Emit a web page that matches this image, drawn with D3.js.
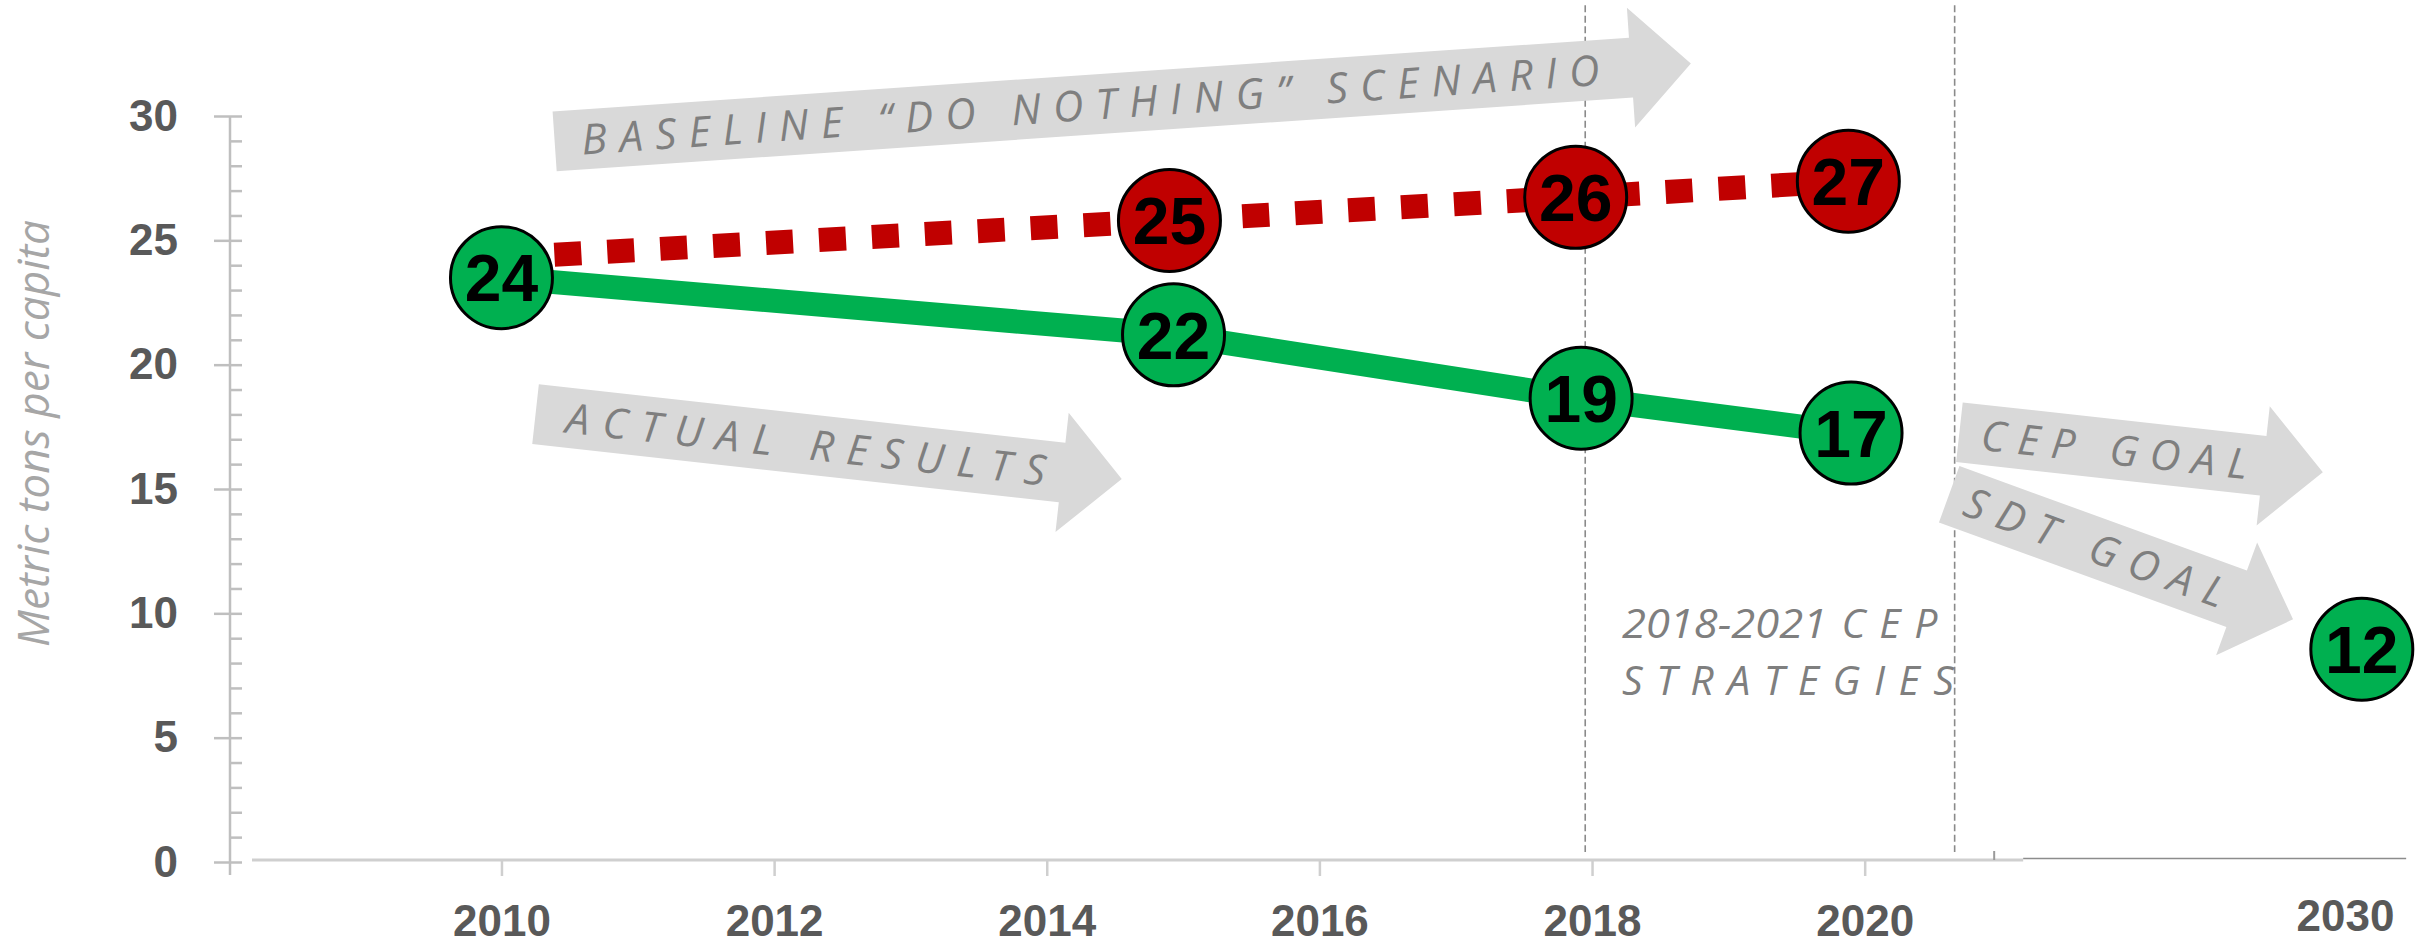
<!DOCTYPE html>
<html>
<head>
<meta charset="utf-8">
<script src="https://cdn.jsdelivr.net/npm/d3@7"></script>
<style>
  body { margin: 0; background: #fff; }
  svg { display: block; }
</style>
</head>
<body>
<div id="chart"></div>
<script>
// actual results (green solid line)
const actualYears = [2010, 2014.93, 2017.92, 2019.9];
const actualValues = [23.5, 21.2, 18.65, 17.25];
const actualLabels = ["24", "22", "19", "17"];

// baseline "do nothing" scenario (red dotted line)
const baselineYears = [2010, 2014.9, 2017.88, 2019.88];
const baselineValues = [24.3, 25.8, 26.73, 27.38];
const baselineLabels = ["", "25", "26", "27"];

// SDT goal
const goalYears = [2030.44];
const goalValues = [8.56];
const goalLabels = ["12"];

const xTicks = [2010, 2012, 2014, 2016, 2018, 2020, 2030];
const yTicks = [0, 5, 10, 15, 20, 25, 30];
const yMinorTicks = [0,1,2,3,4,5,6,7,8,9,10,11,12,13,14,15,16,17,18,19,20,21,22,23,24,25,26,27,28,29,30];

// annotation arrows, [year, value] of tail centre and tip
const arrowTexts = ["BASELINE \u201CDO NOTHING\u201D SCENARIO", "ACTUAL RESULTS", "CEP GOAL", "SDT GOAL"];
const arrowFrom = [[2010.39, 28.98], [2010.25, 18.01], [2020.695, 17.28], [2020.62, 14.79]];
const arrowTo = [[2018.725, 32.11], [2014.55, 15.40], [2029.42, 15.67], [2028.64, 9.76]];
const arrowTextStart = [27, 31, 22, 18];
const arrowTextLen = [1020, 482, 268, 274];

const periodYears = [2017.95, 2020.66];

const width = 2433, height = 945;

const svg = d3.select("#chart")
  .append("svg")
  .attr("width", width)
  .attr("height", height)
  .style("background", "#fff");

// broken time axis: linear up to 2021, then squeezed to 2030
const x = d3.scaleLinear().domain([2008.17, 2021, 2030]).range([252, 2001, 2345]);
const y = d3.scaleLinear().domain([0, 30]).range([862, 116]);

const tickFont = "'Liberation Sans', Arial, sans-serif";
const italicFont = "'Open Sans', 'Noto Sans', sans-serif";

// dashed period lines
svg.selectAll(".period")
  .data(periodYears)
  .enter()
  .append("line")
  .attr("class", "period")
  .attr("x1", d => x(d)).attr("x2", d => x(d))
  .attr("y1", y(34.45)).attr("y2", y(0.4))
  .attr("stroke", "#8a8a8a")
  .attr("stroke-width", 1.6)
  .attr("stroke-dasharray", "7 3.5");

// y axis
const yAxisG = svg.append("g").attr("transform", "translate(230,0)");
yAxisG.append("line")
  .attr("x1", 0).attr("x2", 0)
  .attr("y1", y(30)).attr("y2", y(0) + 13)
  .attr("stroke", "#bfbfbf").attr("stroke-width", 2.5);

const yMinor = yAxisG.append("g").call(d3.axisRight(y).tickValues(yMinorTicks).tickSize(12).tickFormat(""));
yMinor.select(".domain").remove();
yMinor.selectAll("line").attr("stroke", "#bfbfbf").attr("stroke-width", 2.5);

const yMajor = yAxisG.append("g").call(d3.axisLeft(y).tickValues(yTicks).tickSize(16).tickPadding(36));
yMajor.select(".domain").remove();
yMajor.selectAll("line").attr("stroke", "#bfbfbf").attr("stroke-width", 2.5);
yMajor.selectAll("text")
  .attr("fill", "#595959")
  .style("font-family", tickFont)
  .style("font-weight", "bold")
  .style("font-size", "44px");

// x axis
const axisY = 860;
svg.append("line")
  .attr("x1", x(2008.17)).attr("x2", x(2021.58))
  .attr("y1", axisY).attr("y2", axisY)
  .attr("stroke", "#cfcfcf").attr("stroke-width", 3);
svg.append("line")
  .attr("x1", x(2021.58)).attr("x2", x(2031.6))
  .attr("y1", axisY - 1.5).attr("y2", axisY - 1.5)
  .attr("stroke", "#8c8c8c").attr("stroke-width", 1.5);
svg.append("line")
  .attr("x1", x(2020.95)).attr("x2", x(2020.95))
  .attr("y1", axisY - 9).attr("y2", axisY)
  .attr("stroke", "#9a9a9a").attr("stroke-width", 2);

const xAxisG = svg.append("g")
  .attr("transform", `translate(0,${axisY})`)
  .call(d3.axisBottom(x).tickValues(xTicks).tickSize(16).tickPadding(29).tickFormat(d3.format("d")));
xAxisG.select(".domain").remove();
xAxisG.selectAll("line").attr("stroke", "#cfcfcf").attr("stroke-width", 2.5);
xAxisG.selectAll(".tick").filter(d => d == 2030).select("line").remove();
xAxisG.selectAll(".tick").filter(d => d == 2030).select("text").attr("y", 40);
xAxisG.selectAll("text")
  .attr("fill", "#595959")
  .style("font-family", tickFont)
  .style("font-weight", "bold")
  .style("font-size", "44px");

// y title
svg.append("text")
  .attr("transform", `translate(49,${y(17.23)}) rotate(-90)`)
  .attr("text-anchor", "middle")
  .attr("textLength", 427)
  .attr("lengthAdjust", "spacingAndGlyphs")
  .attr("fill", "#a6a6a6")
  .style("font-family", italicFont)
  .style("font-style", "italic")
  .style("font-size", "44px")
  .text("Metric tons per capita");

// arrows
const arrows = arrowTexts.map((t, i) => {
  const x0 = x(arrowFrom[i][0]), y0 = y(arrowFrom[i][1]);
  const x1 = x(arrowTo[i][0]), y1 = y(arrowTo[i][1]);
  return {
    text: t, x0: x0, y0: y0,
    len: Math.hypot(x1 - x0, y1 - y0),
    angle: Math.atan2(y1 - y0, x1 - x0) * 180 / Math.PI,
    start: arrowTextStart[i], textLen: arrowTextLen[i]
  };
});

const arrowG = svg.selectAll(".arrow")
  .data(arrows)
  .enter()
  .append("g")
  .attr("class", "arrow")
  .attr("transform", d => `translate(${d.x0},${d.y0}) rotate(${d.angle})`);

arrowG.append("path")
  .attr("d", d => {
    const L = d.len, h = 60;
    return `M0,-30 L${L - h},-30 L${L - h},-60 L${L},0 L${L - h},60 L${L - h},30 L0,30 Z`;
  })
  .attr("fill", "#d9d9d9");

arrowG.append("text")
  .attr("x", d => d.start)
  .attr("y", 0)
  .attr("dy", "0.36em")
  .attr("textLength", d => d.textLen)
  .attr("lengthAdjust", "spacing")
  .attr("fill", "#7f7f7f")
  .style("font-family", italicFont)
  .style("font-style", "italic")
  .style("font-size", "42px")
  .text(d => d.text);

// strategies note
const noteG = svg.append("g")
  .attr("fill", "#7f7f7f")
  .style("font-family", italicFont)
  .style("font-style", "italic")
  .style("font-size", "41px");
noteG.append("text")
  .attr("x", x(2018.22)).attr("y", y(9.0))
  .attr("textLength", 205)
  .attr("lengthAdjust", "spacingAndGlyphs")
  .text("2018-2021");
noteG.append("text")
  .attr("x", x(2019.83)).attr("y", y(9.0))
  .attr("textLength", 96)
  .attr("lengthAdjust", "spacing")
  .text("CEP");
noteG.append("text")
  .attr("x", x(2018.22)).attr("y", y(6.7))
  .attr("textLength", 332)
  .attr("lengthAdjust", "spacing")
  .text("STRATEGIES");

// series lines
const line = d3.line().x(d => x(d.year)).y(d => y(d.value));

const actual = actualYears.map((yr, i) => ({ year: yr, value: actualValues[i], label: actualLabels[i] }));
const baseline = baselineYears.map((yr, i) => ({ year: yr, value: baselineValues[i], label: baselineLabels[i] }));
const goal = goalYears.map((yr, i) => ({ year: yr, value: goalValues[i], label: goalLabels[i] }));

svg.append("path")
  .datum(actual)
  .attr("d", line)
  .attr("fill", "none")
  .attr("stroke", "#00b050")
  .attr("stroke-width", 24)
  .attr("stroke-linejoin", "round");

svg.append("path")
  .datum(baseline)
  .attr("d", line)
  .attr("fill", "none")
  .attr("stroke", "#c00000")
  .attr("stroke-width", 24)
  .attr("stroke-dasharray", "27 26");

// markers
function drawMarkers(data, color) {
  const g = svg.selectAll(null)
    .data(data.filter(d => d.label !== ""))
    .enter()
    .append("g")
    .attr("transform", d => `translate(${x(d.year)},${y(d.value)})`);
  g.append("circle")
    .attr("r", 51)
    .attr("fill", color)
    .attr("stroke", "#000")
    .attr("stroke-width", 3);
  g.append("text")
    .attr("text-anchor", "middle")
    .attr("dy", "0.36em")
    .attr("fill", "#000")
    .style("font-family", tickFont)
    .style("font-weight", "bold")
    .style("font-size", "66px")
    .text(d => d.label);
}

drawMarkers(baseline, "#c00000");
drawMarkers(actual, "#00b050");
drawMarkers(goal, "#00b050");
</script>
</body>
</html>
